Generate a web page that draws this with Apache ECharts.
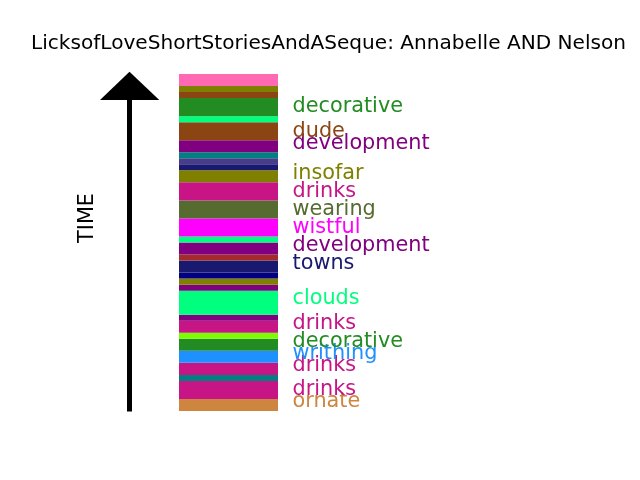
<!DOCTYPE html>
<html>
<head>
<meta charset="utf-8">
<script src="https://cdn.jsdelivr.net/npm/echarts@6/dist/echarts.min.js"></script>
<style>html,body{margin:0;padding:0;background:#fff;}#chart{width:640px;height:480px;}</style>
</head>
<body>
<div id="chart"></div>
<script>
// Segments, bottom (earliest) to top (latest)
var segDurations = [2,3,1,2,2,2,1,2,1,4,1,1,1,2,1,2,1,3,3,3,2,1,1,1,2,3,1,3,1,1,2];
var segColors = ['#CD853F','#C71585','#008080','#C71585','#1E90FF','#228B22','#7CFC00','#C71585','#800080','#00FF7F',
                 '#800080','#808000','#000080','#191970','#A52A2A','#800080','#00FF7F','#FF00FF','#556B2F','#C71585',
                 '#808000','#191970','#483D8B','#008080','#800080','#8B4513','#00FF7F','#228B22','#8B4513','#808000','#FF69B4'];
// Labels
var labelNames = ['ornate','drinks','drinks','writhing','decorative','drinks','clouds','towns','development','wistful',
                  'wearing','drinks','insofar','development','dude','decorative'];
var labelTimes = [1.58,3.52,7.55,9.6,11.55,14.45,18.65,24.45,27.45,30.45,33.45,36.45,39.4,44.45,46.45,50.55];
var labelColors = ['#CD853F','#C71585','#C71585','#1E90FF','#228B22','#C71585','#00FF7F','#191970','#800080','#FF00FF',
                   '#556B2F','#C71585','#808000','#800080','#8B4513','#228B22'];
var titleText = 'LicksofLoveShortStoriesAndASeque: Annabelle AND Nelson';
var axisName = 'TIME';

var FONT = 'DejaVu Sans';
var FS = 20.8;

var series = segDurations.map(function (d, i) {
  return {
    type: 'bar', stack: 'time', barWidth: 99,
    data: [d],
    itemStyle: { color: segColors[i] },
    silent: true
  };
});
series.push({
  type: 'scatter',
  symbolSize: 0,
  itemStyle: { opacity: 1 },
  data: labelTimes.map(function (t, i) {
    return { value: [0, t], name: labelNames[i], label: { color: labelColors[i] } };
  }),
  label: {
    show: true, position: 'right', distance: 64, opacity: 1,
    formatter: function (p) { return p.name; },
    fontFamily: FONT, fontSize: FS, verticalAlign: 'middle'
  },
  z: 5
});

var chart = echarts.init(document.getElementById('chart'), null, { renderer: 'canvas' });
chart.setOption({
  animation: false,
  backgroundColor: '#fff',
  title: {
    text: titleText, left: 26, top: 29,
    textStyle: { fontFamily: FONT, fontSize: 20.1, fontWeight: 'normal', color: '#000' }
  },
  grid: { left: 179, right: 362, top: 74, bottom: 69 },
  xAxis: { type: 'category', data: [''], show: false },
  yAxis: { type: 'value', min: 0, max: 56, show: false },
  series: series,
  graphic: [
    { type: 'rect', shape: { x: 127, y: 98, width: 5, height: 313.5 }, style: { fill: '#000' } },
    { type: 'polygon', shape: { points: [[100, 100], [159.3, 100], [129.5, 71.7]] }, style: { fill: '#000' } },
    { type: 'text', x: 88, y: 218, rotation: Math.PI / 2,
      style: { text: axisName, fontFamily: FONT, fontSize: FS, fill: '#000', align: 'center', verticalAlign: 'middle' } }
  ]
});
</script>
</body>
</html>
